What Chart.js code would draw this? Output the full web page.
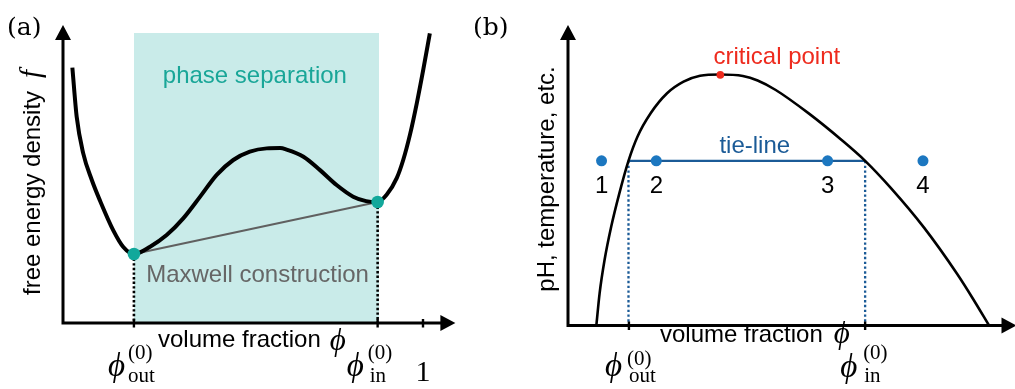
<!DOCTYPE html>
<html><head><meta charset="utf-8">
<script src="https://cdn.jsdelivr.net/npm/chart.js@4/dist/chart.umd.min.js"></script>
<style>
html,body{margin:0;padding:0;background:#fff;overflow:hidden;width:1015px;height:389px}
#ca{position:absolute;left:0;top:0}
#cb{position:absolute;left:470px;top:0}
</style></head><body>
<canvas id="ca" width="470" height="389"></canvas>
<canvas id="cb" width="545" height="389"></canvas>
<script>
// ================= DATA =================
// Panel (a): free energy density f vs volume fraction phi (schematic units)
const freeEnergyPhi = [0.026,0.038,0.056,0.080,0.103,0.140,0.1675,0.197,0.242,0.288,0.334,0.381,0.427,0.473,0.519,0.566,0.603,0.621,0.668,0.714,0.760,0.806,0.842,0.874,0.899,0.927,0.945,0.964,0.983,1.001,1.019];
const freeEnergyF   = [0.857,0.692,0.570,0.480,0.410,0.310,0.255,0.2315,0.256,0.295,0.351,0.424,0.497,0.547,0.575,0.586,0.587,0.582,0.558,0.513,0.463,0.424,0.409,0.406,0.430,0.486,0.547,0.633,0.739,0.852,0.972];
const coexistPhiA = [0.197, 0.874];          // phi_out^(0), phi_in^(0)
const coexistFA   = [0.2315, 0.406];
const shadePhi    = [0.197, 0.878];
const shadeTop    = 0.973;
const tickPhiA    = [0.197, 0.874, 1];
const tickLabelsA = ['out', 'in', '1'];

// Panel (b): binodal (phase diagram)
const binodalPhi = [0.0642,0.0716,0.0828,0.0978,0.1163,0.137,0.1573,0.1872,0.2244,0.2617,0.2991,0.3445,0.3960,0.4295,0.4705,0.5452,0.6197,0.673,0.7315,0.8060,0.8808,0.9179,0.9537];
const binodalT   = [0,0.1072,0.2180,0.3288,0.4399,0.548,0.6283,0.7062,0.7727,0.8113,0.8313,0.8353,0.8303,0.8153,0.7837,0.7058,0.6173,0.548,0.4572,0.3265,0.1730,0.0875,0];
const tieLinePhi = [0.137, 0.673];
const tieLineT   = 0.548;
const samplePhi  = [0.076, 0.200, 0.588, 0.804];
const sampleLabels = ['1','2','3','4'];
const criticalPoint = [0.345, 0.834];
const tickPhiB   = [0.138, 0.673];
const tickLabelsB = ['out', 'in'];

// ================= STYLE =================
const SANS = '"Liberation Sans", Arial, Helvetica, sans-serif';
const SERIF = '"Liberation Serif", "DejaVu Serif", serif';
const TEAL = '#12a89b', SHADE = '#c9ebe9', GRAY = '#606060';
const BLUE_DOT = '#1c77c0', BLUE_LINE = '#1b5b97', RED = '#ee2b1e';

const pts = (xs, ys) => xs.map((x, i) => ({x, y: Array.isArray(ys) ? ys[i] : ys}));

function drawAxes(ctx, ox, oy, xTip, yTip) {
  ctx.save();
  ctx.strokeStyle = '#000'; ctx.fillStyle = '#000'; ctx.lineWidth = 3; ctx.lineCap = 'butt';
  ctx.beginPath();
  ctx.moveTo(ox - 1.5, oy); ctx.lineTo(xTip - 12, oy);
  ctx.moveTo(ox, oy + 1.5); ctx.lineTo(ox, yTip + 12);
  ctx.stroke();
  ctx.beginPath(); ctx.moveTo(xTip, oy); ctx.lineTo(xTip - 15, oy - 8); ctx.lineTo(xTip - 15, oy + 8); ctx.closePath(); ctx.fill();
  ctx.beginPath(); ctx.moveTo(ox, yTip); ctx.lineTo(ox - 8, yTip + 15); ctx.lineTo(ox + 8, yTip + 15); ctx.closePath(); ctx.fill();
  ctx.restore();
}
function drawTick(ctx, x, oy) {
  ctx.save(); ctx.strokeStyle = '#000'; ctx.lineWidth = 2.4;
  ctx.beginPath(); ctx.moveTo(x, oy - 4); ctx.lineTo(x, oy + 4.5); ctx.stroke(); ctx.restore();
}
function phiLabel(ctx, x, base, supBase, subBase, sub, o) {
  ctx.save(); ctx.fillStyle = '#000'; ctx.textAlign = 'left'; ctx.textBaseline = 'alphabetic';
  ctx.font = 'italic 33px ' + SERIF; ctx.fillText('\u03D5', x + o[0], base);
  ctx.font = '21px ' + SERIF; ctx.fillText('(0)', x + o[1], supBase);
  ctx.fillText(sub, x + o[2], subBase);
  ctx.restore();
}
function text(ctx, s, x, y, font, color, align) {
  ctx.save(); ctx.font = font; ctx.fillStyle = color; ctx.textAlign = align || 'left'; ctx.textBaseline = 'alphabetic';
  ctx.fillText(s, x, y); ctx.restore();
}
function xLabel(ctx, x, base, phiBase, gap) {
  ctx.save(); ctx.font = '24px ' + SANS; ctx.fillStyle = '#000'; ctx.textAlign = 'left';
  ctx.fillText('volume fraction', x, base);
  const w = ctx.measureText('volume fraction').width;
  ctx.font = 'italic 31px ' + SERIF; ctx.fillText('\u03D5', x + w + gap, phiBase);
  ctx.restore();
}
function yLabel(ctx, s, bx, startY, mathF) {
  ctx.save(); ctx.translate(bx, startY); ctx.rotate(-Math.PI / 2);
  ctx.font = '24px ' + SANS; ctx.fillStyle = '#000'; ctx.textAlign = 'left';
  ctx.fillText(s, 0, 0);
  if (mathF) {
    const w = ctx.measureText(s).width;
    ctx.font = 'italic 29px ' + SERIF; ctx.fillText('f', w + 13, 0);
  }
  ctx.restore();
}

const common = (pad, xmax) => ({
  responsive: false, animation: false, events: [],
  layout: {padding: pad},
  scales: {
    x: {type: 'linear', display: false, min: 0, max: xmax},
    y: {type: 'linear', display: false, min: 0, max: 1}
  },
  plugins: {legend: {display: false}, tooltip: {enabled: false}},
  elements: {point: {radius: 0}}
});

// ================= PANEL (a) =================
new Chart(document.getElementById('ca'), {
  type: 'scatter',
  data: {datasets: [
    {data: pts(coexistPhiA, coexistFA), pointRadius: 6.3, pointBackgroundColor: TEAL, pointBorderWidth: 0, showLine: false, order: 0, clip: false},
    {data: pts(freeEnergyPhi, freeEnergyF), showLine: true, borderColor: '#000', borderWidth: 4, cubicInterpolationMode: 'monotone', pointRadius: 0, order: 1, clip: false},
    {data: pts(coexistPhiA, coexistFA), showLine: true, borderColor: GRAY, borderWidth: 2.2, pointRadius: 0, order: 2, clip: false},
    {data: [{x: coexistPhiA[0], y: coexistFA[0]}, {x: coexistPhiA[0], y: 0}], showLine: true, borderColor: '#000', borderWidth: 2.6, borderDash: [2.4, 2.2], pointRadius: 0, order: 3, clip: false},
    {data: [{x: coexistPhiA[1], y: coexistFA[1]}, {x: coexistPhiA[1], y: 0}], showLine: true, borderColor: '#000', borderWidth: 2.6, borderDash: [2.4, 2.2], pointRadius: 0, order: 3, clip: false},
    {data: pts(shadePhi, shadeTop), showLine: true, borderWidth: 0, borderColor: 'rgba(0,0,0,0)', backgroundColor: SHADE, fill: 'origin', pointRadius: 0, order: 10, clip: false}
  ]},
  options: common({left: 63, top: 25, right: 470 - 455.4, bottom: 66}, 1.09),
  plugins: [{
    id: 'decorA',
    afterDatasetsDraw(chart) {
      const {ctx, scales: {x, y}} = chart;
      text(ctx, 'phase separation', x.getPixelForValue(0.533), y.getPixelForValue(0.804), '24px ' + SANS, '#19a698', 'center');
      text(ctx, 'Maxwell construction', x.getPixelForValue(0.231), y.getPixelForValue(0.138), '24px ' + SANS, '#666666', 'left');
    },
    afterDraw(chart) {
      const {ctx, chartArea: ca, scales: {x, y}} = chart;
      const ox = x.getPixelForValue(0), oy = y.getPixelForValue(0);
      drawAxes(ctx, ox, oy, ca.right, ca.top);
      tickPhiA.forEach(v => drawTick(ctx, x.getPixelForValue(v), oy));
      const t0 = x.getPixelForValue(tickPhiA[0]), t1 = x.getPixelForValue(tickPhiA[1]), t2 = x.getPixelForValue(tickPhiA[2]);
      phiLabel(ctx, t0, 376, 359, 381.5, tickLabelsA[0], [-26, -6, -6]);
      phiLabel(ctx, t1, 376, 359, 381.5, tickLabelsA[1], [-31, -10, -8]);
      text(ctx, tickLabelsA[2], t2, 381, '30px ' + SERIF, '#000', 'center');
      xLabel(ctx, 158, 347, 350, 9);
      yLabel(ctx, 'free energy density', 39.5, 295, true);
      text(ctx, '(a)', 7, 35, '25px "DejaVu Serif", serif', '#000', 'left');
    }
  }]
});

// ================= PANEL (b) =================
new Chart(document.getElementById('cb'), {
  type: 'scatter',
  data: {datasets: [
    {data: [{x: criticalPoint[0], y: criticalPoint[1]}], pointRadius: 3.8, pointBackgroundColor: RED, pointBorderWidth: 0, showLine: false, order: 0, clip: false},
    {data: pts(samplePhi, tieLineT), pointRadius: 5.5, pointBackgroundColor: BLUE_DOT, pointBorderWidth: 0, showLine: false, order: 0, clip: false},
    {data: pts(binodalPhi, binodalT), showLine: true, borderColor: '#000', borderWidth: 2.6, cubicInterpolationMode: 'monotone', pointRadius: 0, order: 1, clip: false},
    {data: pts(tieLinePhi, tieLineT), showLine: true, borderColor: BLUE_LINE, borderWidth: 2.4, pointRadius: 0, order: 2, clip: false},
    {data: [{x: tieLinePhi[0], y: tieLineT}, {x: tieLinePhi[0], y: 0}], showLine: true, borderColor: BLUE_LINE, borderWidth: 2.3, borderDash: [2.4, 2.4], pointRadius: 0, order: 3, clip: false},
    {data: [{x: tieLinePhi[1], y: tieLineT}, {x: tieLinePhi[1], y: 0}], showLine: true, borderColor: BLUE_LINE, borderWidth: 2.3, borderDash: [2.4, 2.4], pointRadius: 0, order: 3, clip: false}
  ]},
  options: common({left: 98, top: 25, right: 0, bottom: 389 - 325.5}, 1),
  plugins: [{
    id: 'decorB',
    afterDatasetsDraw(chart) {
      const {ctx, scales: {x, y}} = chart;
      text(ctx, 'tie-line', x.getPixelForValue(0.423), y.getPixelForValue(0.574), '24px ' + SANS, BLUE_LINE, 'center');
      text(ctx, 'critical point', x.getPixelForValue(0.473), y.getPixelForValue(0.870), '24px ' + SANS, RED, 'center');
      samplePhi.forEach((v, i) => text(ctx, sampleLabels[i], x.getPixelForValue(v), y.getPixelForValue(0.440), '24px ' + SANS, '#000', 'center'));
    },
    afterDraw(chart) {
      const {ctx, chartArea: ca, scales: {x, y}} = chart;
      const ox = x.getPixelForValue(0), oy = y.getPixelForValue(0);
      drawAxes(ctx, ox, oy, ca.right + 7, ca.top);
      tickPhiB.forEach(v => drawTick(ctx, x.getPixelForValue(v), oy));
      const t0 = x.getPixelForValue(tickPhiB[0]), t1 = x.getPixelForValue(tickPhiB[1]);
      phiLabel(ctx, t0, 376, 365, 381.5, tickLabelsB[0], [-24, -2, 0]);
      phiLabel(ctx, t1, 377, 358.5, 381.5, tickLabelsB[1], [-25, -2, -1]);
      xLabel(ctx, 190, 341.7, 343, 11);
      yLabel(ctx, 'pH, temperature, etc.', 83.5, 291.7, false);
      text(ctx, '(b)', 3, 35, '25px "DejaVu Serif", serif', '#000', 'left');
    }
  }]
});
</script>
</body></html>
